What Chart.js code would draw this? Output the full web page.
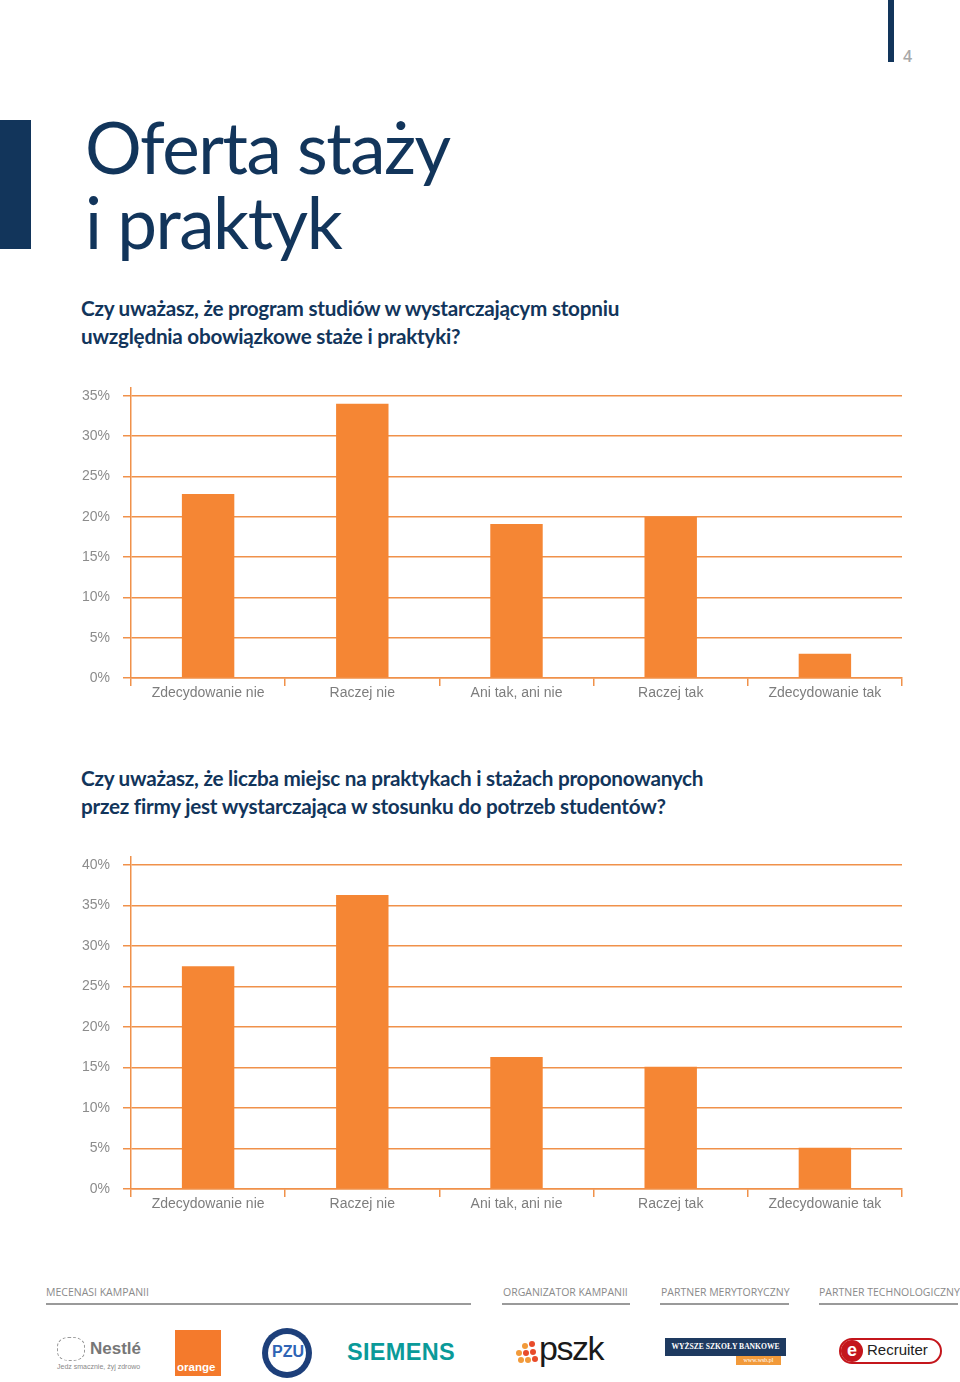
<!DOCTYPE html>
<html>
<head>
<meta charset="utf-8">
<script src="https://cdn.jsdelivr.net/npm/chart.js@4.4.1/dist/chart.umd.min.js"></script>
<style>
  html,body{margin:0;padding:0;background:#fff;}
  body{width:960px;height:1382px;position:relative;overflow:hidden;font-family:"Lato","Open Sans",sans-serif;}
  .abs{position:absolute;}
  .navy{background:#12355b;}
  h1{position:absolute;left:85px;top:109px;margin:0;font-family:"Lato",sans-serif;font-weight:400;font-size:71px;line-height:75px;color:#12355b;letter-spacing:-1.5px;}
  .q{position:absolute;left:81px;margin:0;font-family:"Lato",sans-serif;font-weight:700;font-size:20.7px;line-height:28px;color:#12355b;letter-spacing:-0.25px;}
  canvas{position:absolute;left:0;}
  .flabel{position:absolute;top:1285px;font-family:"Open Sans",sans-serif;font-size:10.5px;color:#8a8a8a;white-space:nowrap;}
  .fline{position:absolute;top:1303px;height:2px;background:#9a9a9a;}
  .dot{position:absolute;width:6px;height:6px;border-radius:50%;}
</style>
</head>
<body>
<div class="abs navy" style="left:888px;top:0;width:6px;height:62px;"></div>
<div class="abs" style="left:903px;top:45px;font-family:'Open Sans',sans-serif;font-size:16px;font-weight:600;color:#a8a8a8;">4</div>
<div class="abs navy" style="left:0;top:120px;width:31px;height:129px;"></div>
<h1>Oferta staży<br>i praktyk</h1>
<p class="q" style="top:294px;">Czy uważasz, że program studiów w wystarczającym stopniu<br>uwzględnia obowiązkowe staże i praktyki?</p>
<canvas id="c1" width="960" height="342" style="top:368px;"></canvas>
<p class="q" style="top:764px;">Czy uważasz, że liczba miejsc na praktykach i stażach proponowanych<br>przez firmy jest wystarczająca w stosunku do potrzeb studentów?</p>
<canvas id="c2" width="960" height="383" style="top:837px;"></canvas>

<div class="flabel" style="left:46px;">MECENASI KAMPANII</div>
<div class="fline" style="left:46px;width:425px;"></div>
<div class="flabel" style="left:503px;">ORGANIZATOR KAMPANII</div>
<div class="fline" style="left:502px;width:128px;"></div>
<div class="flabel" style="left:661px;">PARTNER MERYTORYCZNY</div>
<div class="fline" style="left:660px;width:129px;"></div>
<div class="flabel" style="left:819px;">PARTNER TECHNOLOGICZNY</div>
<div class="fline" style="left:819px;width:139px;"></div>

<!-- logos -->
<div class="abs" style="left:57px;top:1337px;width:26px;height:22px;border:1px dashed #9a9a9a;border-radius:40%;"></div>
<div class="abs" style="left:90px;top:1339px;font-family:'Liberation Sans',sans-serif;font-weight:700;font-size:17px;color:#777;">Nestlé</div>
<div class="abs" style="left:57px;top:1363px;font-family:'Liberation Sans',sans-serif;font-size:7px;color:#888;">Jedz smacznie, żyj zdrowo</div>

<div class="abs" style="left:175px;top:1330px;width:46px;height:46px;background:#f47a2c;"></div>
<div class="abs" style="left:177px;top:1361px;font-family:'Liberation Sans',sans-serif;font-weight:700;font-size:11.5px;color:#fff;">orange</div>

<div class="abs" style="left:262px;top:1328px;width:50px;height:50px;border-radius:50%;background:#1d3f7a;"></div>
<div class="abs" style="left:268px;top:1334px;width:38px;height:38px;border-radius:50%;background:#fff;"></div>
<div class="abs" style="left:272px;top:1343px;font-family:'Liberation Sans',sans-serif;font-weight:700;font-size:16px;color:#2f64b5;">PZU</div>

<div class="abs" style="left:347px;top:1339px;font-family:'Liberation Sans',sans-serif;font-weight:700;font-size:23.5px;color:#0a9a99;letter-spacing:0.3px;">SIEMENS</div>

<div class="dot" style="left:522px;top:1343px;background:#f29a3a;"></div>
<div class="dot" style="left:529px;top:1341px;background:#e84b2a;"></div>
<div class="dot" style="left:516px;top:1350px;background:#f29a3a;"></div>
<div class="dot" style="left:523px;top:1350px;background:#e84b2a;"></div>
<div class="dot" style="left:530px;top:1349px;background:#e84b2a;"></div>
<div class="dot" style="left:518px;top:1357px;background:#f29a3a;"></div>
<div class="dot" style="left:525px;top:1357px;background:#f29a3a;"></div>
<div class="dot" style="left:532px;top:1356px;background:#e84b2a;"></div>
<div class="abs" style="left:539px;top:1329px;font-family:'Liberation Sans',sans-serif;font-size:34px;color:#1a1a1a;letter-spacing:-1.5px;">pszk</div>

<div class="abs" style="left:665px;top:1338px;width:121px;height:18px;background:#1e3a60;color:#fff;font-family:'Liberation Serif',serif;font-weight:700;font-size:7.6px;line-height:18px;text-align:center;white-space:nowrap;">WYŻSZE SZKOŁY BANKOWE</div>
<div class="abs" style="left:736px;top:1356px;width:45px;height:9px;background:#f29a3a;color:#fff;font-family:'Liberation Serif',serif;font-size:6px;line-height:9px;text-align:center;">www.wsb.pl</div>

<div class="abs" style="left:839px;top:1338px;width:99px;height:22px;border:2px solid #c4161c;border-radius:13px;"></div>
<div class="abs" style="left:841px;top:1340px;width:22px;height:22px;border-radius:50%;background:#c4161c;color:#fff;font-family:'Liberation Sans',sans-serif;font-weight:700;font-size:18px;line-height:21px;text-align:center;">e</div>
<div class="abs" style="left:867px;top:1341px;font-family:'Liberation Sans',sans-serif;font-size:15px;color:#222;">Recruiter</div>

<script>
const categories = ["Zdecydowanie nie", "Raczej nie", "Ani tak, ani nie", "Raczej tak", "Zdecydowanie tak"];
const valuesQ1 = [22.8, 34.0, 19.1, 20.0, 3.0];
const valuesQ2 = [27.5, 36.3, 16.3, 15.1, 5.1];
const ticksQ1 = [0, 5, 10, 15, 20, 25, 30, 35];
const ticksQ2 = [0, 5, 10, 15, 20, 25, 30, 35, 40];

const ORANGE = '#f58634';
const GRID = '#f0914a';

function makeChart(id, values, tickVals, axisMax, xHeight) {
  new Chart(document.getElementById(id), {
    type: 'bar',
    data: {
      labels: categories,
      datasets: [{ data: values, backgroundColor: ORANGE, borderWidth: 0,
                   barPercentage: 0.34, categoryPercentage: 1 }]
    },
    options: {
      responsive: false,
      devicePixelRatio: 1,
      animation: false,
      layout: { padding: { left: 0, right: 58, top: 0, bottom: 0 } },
      plugins: { legend: { display: false }, tooltip: { enabled: false } },
      scales: {
        x: {
          offset: true,
          grid: { display: true, offset: true, drawOnChartArea: false, drawTicks: true,
                  tickLength: 8, color: GRID, lineWidth: 1.5 },
          border: { display: true, color: GRID, width: 1.5 },
          ticks: { color: '#7d7d7d', padding: -1, maxRotation: 0,
                   font: { family: "'Liberation Sans', Arial, sans-serif", size: 14 } },
          afterFit: s => { s.height = xHeight; }
        },
        y: {
          min: 0, max: axisMax,
          afterBuildTicks: s => { s.ticks = tickVals.map(v => ({ value: v })); },
          grid: { color: GRID, lineWidth: 1.5, tickLength: 8, drawTicks: true },
          border: { display: true, color: GRID, width: 1.5 },
          ticks: { color: '#8c8c8c', padding: 13, callback: v => v + '%',
                   font: { family: "'Liberation Sans', Arial, sans-serif", size: 14, lineHeight: 1 } },
          afterFit: s => { s.width = 131; }
        }
      }
    }
  });
}

makeChart('c1', valuesQ1, ticksQ1, 35.95, 32);
makeChart('c2', valuesQ2, ticksQ2, 41.0, 31);
</script>
</body>
</html>
